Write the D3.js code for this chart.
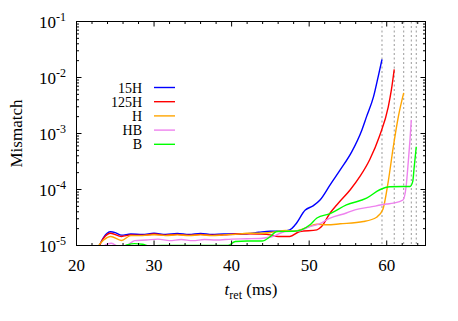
<!DOCTYPE html>
<html>
<head>
<meta charset="utf-8">
<script src="https://cdn.jsdelivr.net/npm/d3@7"></script>
<style>
  body { margin: 0; background: #fff; }
</style>
</head>
<body>
<svg id="chart" width="458" height="321"></svg>
<script>
// series: [t_ret (ms), mismatch]
const data15H = [[22.8,0.9e-5],[23.5,1.4e-5],[24.4,1.76e-5],[25.0,1.7e-5],[25.8,1.53e-5],[27,1.6e-5],[28.5,1.57e-5],[30,1.65e-5],[31.5,1.58e-5],[33,1.64e-5],[34.5,1.57e-5],[36,1.64e-5],[37.5,1.57e-5],[39,1.6e-5],[40.5,1.6e-5],[42,1.62e-5],[43.5,1.72e-5],[45,1.8e-5],[46.5,1.8e-5],[47.5,1.9e-5],[48.2,2.34e-5],[49.5,4.3e-5],[50.5,5.1e-5],[51.4,6.5e-5],[52.7,1.21e-4],[54.0,2.24e-4],[55.5,4.75e-4],[56.8,1.16e-3],[57.4,2.0e-3],[58.3,4.55e-3],[58.9,1.04e-2],[59.39,2.1e-2]];
const data125H = [[22.8,0.9e-5],[23.5,1.35e-5],[24.4,1.65e-5],[25.8,1.45e-5],[27,1.55e-5],[28.5,1.52e-5],[30,1.6e-5],[31.5,1.53e-5],[33,1.58e-5],[34.5,1.52e-5],[36,1.58e-5],[37.5,1.52e-5],[39,1.55e-5],[40.5,1.6e-5],[42,1.62e-5],[43.5,1.6e-5],[45,1.55e-5],[46,1.45e-5],[47.5,1.45e-5],[48.8,1.78e-5],[51,1.9e-5],[51.6,2.18e-5],[52.7,3.8e-5],[53.75,5.7e-5],[55.3,9.9e-5],[56.55,1.71e-4],[57.8,3.4e-4],[59.1,9.2e-4],[60.2,3.0e-3],[60.6,6.0e-3],[60.97,1.4e-2]];
const dataH = [[22.6,0.9e-5],[23.5,1.25e-5],[24.4,1.45e-5],[25.8,1.23e-5],[27,1.5e-5],[28.5,1.5e-5],[30,1.56e-5],[31.5,1.5e-5],[33,1.55e-5],[34.5,1.5e-5],[36,1.55e-5],[37.5,1.5e-5],[39,1.55e-5],[40.5,1.58e-5],[42,1.65e-5],[44,1.65e-5],[45.5,1.75e-5],[47,1.85e-5],[48,1.82e-5],[49.5,2.04e-5],[51,2.4e-5],[52.3,2.34e-5],[54,2.44e-5],[57,2.68e-5],[58.7,3.2e-5],[59.5,4.4e-5],[60.2,1.4e-4],[60.85,5.8e-4],[61.5,2.0e-3],[62.19,5.3e-3]];
const dataHB = [[23.0,0.85e-5],[23.6,1.0e-5],[24.5,1.1e-5],[25.5,0.95e-5],[26.5,1.0e-5],[27.5,1.22e-5],[29,1.25e-5],[30.5,1.3e-5],[32,1.22e-5],[33.5,1.28e-5],[35,1.22e-5],[36.5,1.28e-5],[38,1.25e-5],[40,1.3e-5],[42,1.32e-5],[44,1.35e-5],[45.3,1.45e-5],[47,1.78e-5],[48.5,1.8e-5],[50.1,2.18e-5],[51.2,2.4e-5],[52.7,3.08e-5],[54.8,3.8e-5],[55.9,4.33e-5],[57.8,4.84e-5],[60,5.5e-5],[60.85,5.7e-5],[62.1,6.5e-5],[62.5,1.13e-4],[62.8,3.4e-4],[63.0,7.7e-4],[63.17,1.75e-3]];
const dataB = [[25.5,0.9e-5],[26.5,1.02e-5],[27.5,1.08e-5],[28.5,1.05e-5],[29.5,0.98e-5],[31,1.0e-5],[33,1.0e-5],[35,1.0e-5],[37,1.0e-5],[39.5,1.0e-5],[40.5,1.18e-5],[42,1.2e-5],[43.9,1.2e-5],[45,1.45e-5],[45.8,1.78e-5],[48,1.8e-5],[49,1.9e-5],[50.1,2.34e-5],[51,3.1e-5],[52.7,3.7e-5],[54.8,5.3e-5],[57.4,7.0e-5],[59.1,9.9e-5],[60.4,1.12e-4],[62.1,1.13e-4],[63.0,1.13e-4],[63.35,1.38e-4],[63.55,2.57e-4],[63.81,5.8e-4]];

const seriesNames = ["15H", "125H", "H", "HB", "B"];
const seriesColors = ["#0000ff", "#ff0000", "#ffa500", "#ee82ee", "#00ff00"];
const seriesData = [data15H, data125H, dataH, dataHB, dataB];

// end times of each waveform (dashed markers)
const endTimes = [59.39, 60.97, 62.19, 63.17, 63.81];

const xTicks = [20, 30, 40, 50, 60];
const yExponents = [-1, -2, -3, -4, -5];

const FONT = '"Liberation Serif"';

const margin = { top: 21.5, right: 32.5, bottom: 75.5, left: 76.5 };
const width = 458 - margin.left - margin.right;
const height = 321 - margin.top - margin.bottom;

const svg = d3.select("#chart");
const g = svg.append("g").attr("transform", `translate(${margin.left},${margin.top})`);

const x = d3.scaleLinear().domain([20, 65]).range([0, width]);
const y = d3.scaleLog().domain([1e-5, 1e-1]).range([height, 0]);

g.append("clipPath").attr("id", "clip")
  .append("rect").attr("width", width).attr("height", height);

// dashed end markers
g.selectAll(".endline")
  .data(endTimes)
  .enter()
  .append("line")
  .attr("x1", d => x(d)).attr("x2", d => x(d))
  .attr("y1", 0).attr("y2", height)
  .attr("stroke", "#999")
  .attr("stroke-width", 1)
  .attr("stroke-dasharray", "2,2.5");

// curves
const line = d3.line()
  .x(d => x(d[0]))
  .y(d => y(d[1]))
  .curve(d3.curveMonotoneX);

g.append("g").attr("clip-path", "url(#clip)")
  .selectAll(".curve")
  .data(seriesData)
  .enter()
  .append("path")
  .attr("d", line)
  .attr("fill", "none")
  .attr("stroke", (d, i) => seriesColors[i])
  .attr("stroke-width", 1.4);

// ticks on all four sides
const xMinor = d3.range(20, 65.01, 2).filter(v => v % 10 !== 0);
const yMinor = [];
for (let e = -5; e < -1; e++) for (let k = 2; k <= 9; k++) yMinor.push(k * Math.pow(10, e));

const tickG = g.append("g").attr("stroke", "#000").attr("stroke-width", 1);
function xTickMarks(vals, len) {
  vals.forEach(v => {
    tickG.append("line").attr("x1", x(v)).attr("x2", x(v)).attr("y1", height).attr("y2", height - len);
    tickG.append("line").attr("x1", x(v)).attr("x2", x(v)).attr("y1", 0).attr("y2", len);
  });
}
function yTickMarks(vals, len) {
  vals.forEach(v => {
    tickG.append("line").attr("x1", 0).attr("x2", len).attr("y1", y(v)).attr("y2", y(v));
    tickG.append("line").attr("x1", width).attr("x2", width - len).attr("y1", y(v)).attr("y2", y(v));
  });
}
xTickMarks(xTicks, 5);
xTickMarks(xMinor, 2.5);
yTickMarks(yExponents.map(e => Math.pow(10, e)), 5);
yTickMarks(yMinor, 2.5);

// frame
g.append("rect")
  .attr("width", width).attr("height", height)
  .attr("fill", "none").attr("stroke", "#000").attr("stroke-width", 1);

// tick labels
g.selectAll(".xlabel")
  .data(xTicks)
  .enter()
  .append("text")
  .attr("x", d => x(d))
  .attr("y", height + 25)
  .attr("text-anchor", "middle")
  .style("font-family", FONT)
  .style("font-size", "17px")
  .text(d => d);

const yl = g.selectAll(".ylabel")
  .data(yExponents)
  .enter()
  .append("text")
  .attr("x", -10.5)
  .attr("y", d => y(Math.pow(10, d)) + 6.5)
  .attr("text-anchor", "end")
  .style("font-family", FONT)
  .style("font-size", "17px");
yl.append("tspan").text("10");
yl.append("tspan").attr("dy", -7).style("font-size", "12px").text(d => "-" + Math.abs(d));

// axis titles
svg.append("text")
  .attr("transform", `translate(21.5,${margin.top + height / 2}) rotate(-90)`)
  .attr("text-anchor", "middle")
  .style("font-family", FONT)
  .style("font-size", "17px")
  .text("Mismatch");

const xt = svg.append("text")
  .attr("x", margin.left + width / 2)
  .attr("y", 295)
  .attr("text-anchor", "middle")
  .style("font-family", FONT)
  .style("font-size", "17px");
xt.append("tspan").style("font-style", "italic").text("t");
xt.append("tspan").attr("dy", 4).style("font-size", "12px").text("ret");
xt.append("tspan").attr("dy", -4).text(" (ms)");

// legend
const legend = svg.append("g");
seriesNames.forEach((name, i) => {
  const ly = 87.5 + i * 14.2;
  legend.append("text")
    .attr("x", 142).attr("y", ly + 5)
    .attr("text-anchor", "end")
    .style("font-family", FONT)
    .style("font-size", "14px")
    .text(name);
  legend.append("line")
    .attr("x1", 154).attr("x2", 175)
    .attr("y1", ly).attr("y2", ly)
    .attr("stroke", seriesColors[i])
    .attr("stroke-width", 1.4);
});
</script>
</body>
</html>
